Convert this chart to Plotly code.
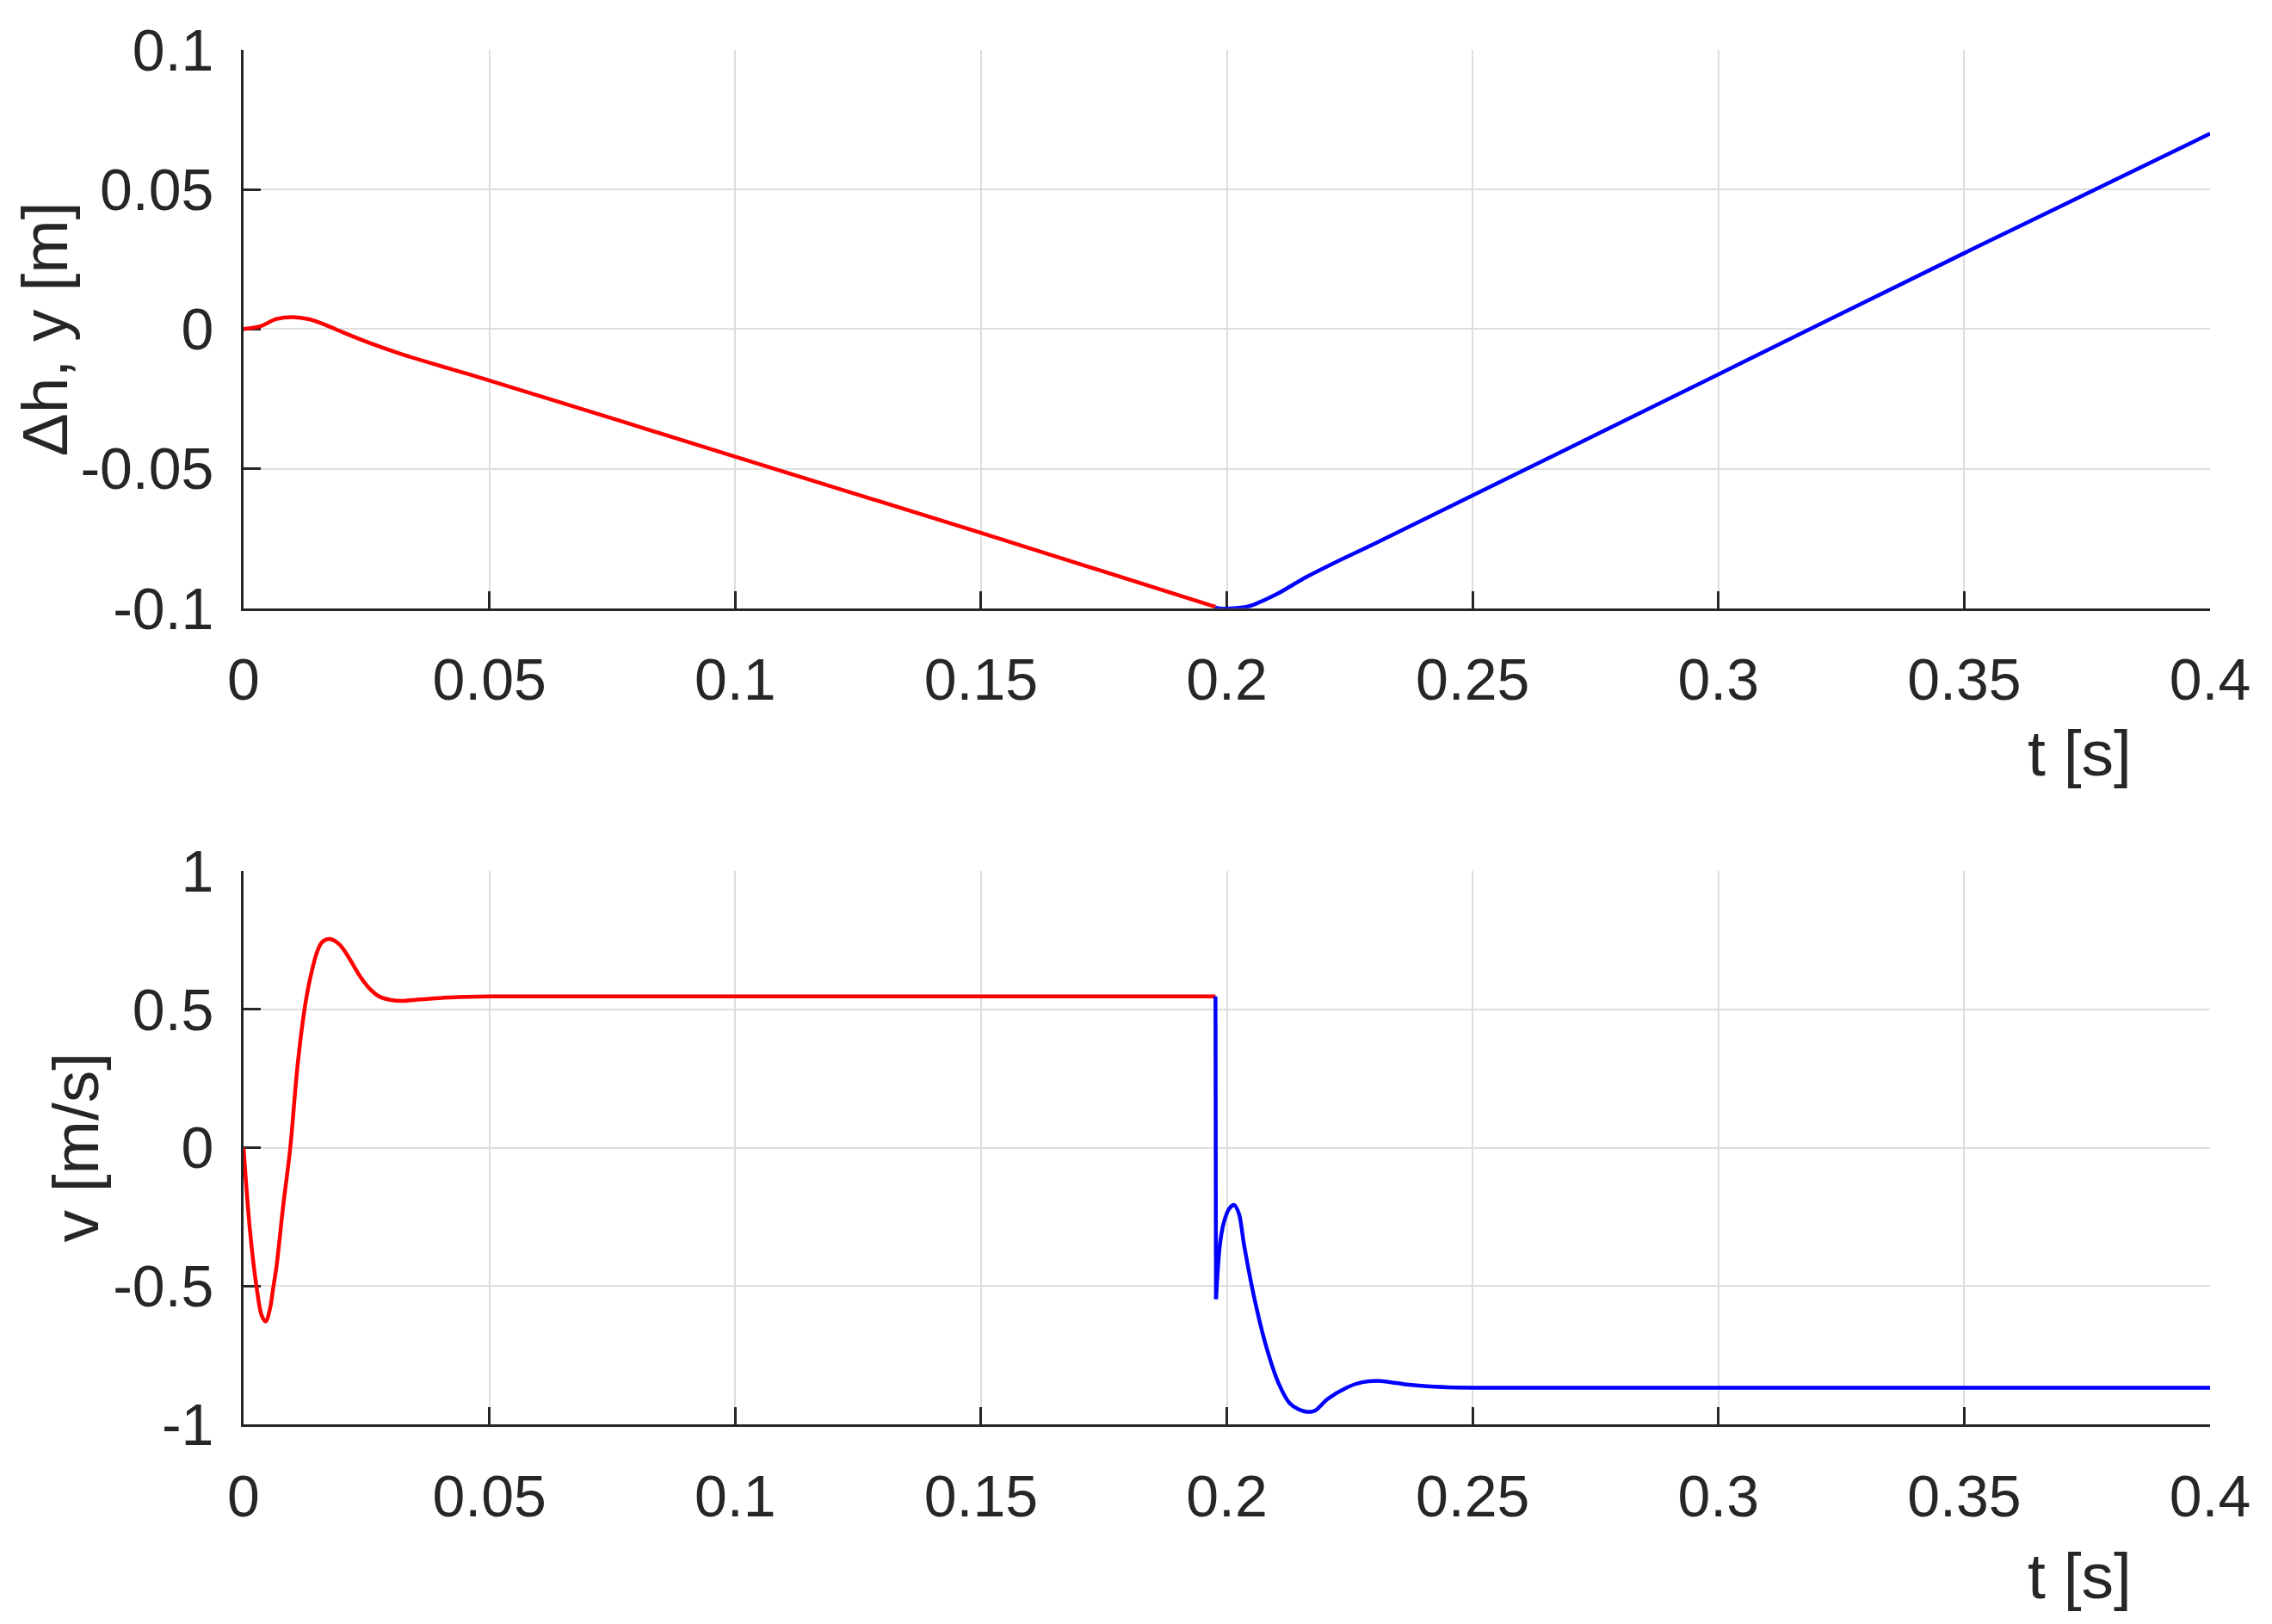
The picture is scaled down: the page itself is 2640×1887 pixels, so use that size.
import plotly.graph_objects as go

# ---------------- data ----------------
# top panel: delta h, y [m]
t_top_red = [0, 0.0034, 0.0067, 0.010, 0.0134, 0.0168, 0.0201, 0.0242, 0.0322,
             0.05, 0.1, 0.15, 0.1977]
y_top_red = [0, 0.0010, 0.0036, 0.0043, 0.0035, 0.0014, -0.0011, -0.0040, -0.0090,
             -0.0184, -0.0457, -0.0730, -0.0995]

t_top_blue = [0.1977, 0.1981, 0.2043, 0.210, 0.216, 0.2218, 0.2305, 0.30, 0.35, 0.40]
y_top_blue = [-0.0995, -0.1000, -0.0994, -0.0951, -0.0890, -0.0838, -0.0765,
              -0.0162, 0.0272, 0.0700]

# bottom panel: v [m/s]
t_bot_red = [0, 0.00134, 0.0027, 0.0037, 0.0045, 0.0054, 0.0060, 0.0067, 0.0080,
             0.0095, 0.0110, 0.0124, 0.0134, 0.0148, 0.0158, 0.0167, 0.0176, 0.0195,
             0.0215, 0.0235, 0.0255, 0.0275, 0.0300, 0.0325, 0.0360, 0.0420, 0.0500,
             0.1977]
v_bot_red = [0, -0.305, -0.51, -0.607, -0.628, -0.58, -0.51, -0.43, -0.22,
             0.0, 0.30, 0.50, 0.60, 0.70, 0.74, 0.752, 0.755, 0.735,
             0.685, 0.625, 0.578, 0.548, 0.534, 0.531, 0.536, 0.543, 0.547,
             0.547]

t_bot_blue = [0.1977, 0.1978, 0.1986, 0.1994, 0.2005, 0.2015, 0.2025, 0.2035, 0.2058,
              0.2082, 0.2105, 0.2128, 0.2145, 0.2163, 0.2180, 0.2204, 0.2245, 0.2275,
              0.2303, 0.2335, 0.2362, 0.2391, 0.2450, 0.2600, 0.4000]
v_bot_blue = [0.547, -0.547, -0.35, -0.27, -0.22, -0.207, -0.24, -0.35, -0.56,
              -0.73, -0.85, -0.924, -0.945, -0.955, -0.95, -0.91, -0.866, -0.848,
              -0.843, -0.848, -0.855, -0.86, -0.866, -0.868, -0.868]

x_ticks = [0, 0.05, 0.1, 0.15, 0.2, 0.25, 0.3, 0.35, 0.4]
x_ticktext = ["0", "0.05", "0.1", "0.15", "0.2", "0.25", "0.3", "0.35", "0.4"]
y_top_ticks = [-0.1, -0.05, 0, 0.05, 0.1]
y_top_ticktext = ["-0.1", "-0.05", "0", "0.05", "0.1"]
y_bot_ticks = [-1, -0.5, 0, 0.5, 1]
y_bot_ticktext = ["-1", "-0.5", "0", "0.5", "1"]

# ---------------- figure ----------------
RED = "#ff0000"
BLUE = "#0000ff"
AXC = "#262626"
GRID = "#dedede"
FONT = "Liberation Sans, Arial, sans-serif"
LW = 4.5

fig = go.Figure()
fig.add_trace(go.Scatter(x=t_top_red, y=y_top_red, mode="lines",
                         line=dict(color=RED, width=LW, shape="spline", smoothing=0.8),
                         xaxis="x", yaxis="y", showlegend=False))
fig.add_trace(go.Scatter(x=t_top_blue, y=y_top_blue, mode="lines",
                         line=dict(color=BLUE, width=LW, shape="spline", smoothing=0.8),
                         xaxis="x", yaxis="y", showlegend=False))
fig.add_trace(go.Scatter(x=t_bot_red, y=v_bot_red, mode="lines",
                         line=dict(color=RED, width=LW, shape="spline", smoothing=1.0),
                         xaxis="x2", yaxis="y2", showlegend=False))
# vertical switch segment (straight) and the settling part (smooth)
fig.add_trace(go.Scatter(x=t_bot_blue[:2], y=v_bot_blue[:2], mode="lines",
                         line=dict(color=BLUE, width=LW),
                         xaxis="x2", yaxis="y2", showlegend=False))
fig.add_trace(go.Scatter(x=t_bot_blue[1:], y=v_bot_blue[1:], mode="lines",
                         line=dict(color=BLUE, width=LW, shape="spline", smoothing=0.8),
                         xaxis="x2", yaxis="y2", showlegend=False))

# page body has an 8px margin around the plot div
OFF = 8
W, H = 2640 - 2 * OFF, 1887 - 2 * OFF
L = 283 - OFF
T = 45 - OFF
R = (W + OFF) - 2568
B = (H + OFF) - 1655
PH = H - T - B
PW = W - L - R


def py(page_y):
    return 1 - (page_y - OFF - T) / PH


def px(page_x):
    return (page_x - OFF - L) / PW


top_dom = [py(699), 1.0]
bot_dom = [0.0, py(1007)]

common = dict(showline=True, linecolor=AXC, linewidth=3, mirror=False,
              ticks="inside", ticklen=20, tickwidth=3, tickcolor=AXC,
              showgrid=True, gridcolor=GRID, gridwidth=2, zeroline=False,
              tickfont=dict(family=FONT, size=68, color=AXC),
              layer="below traces")

fig.update_layout(
    width=W, height=H,
    margin=dict(l=L, r=R, t=T, b=B),
    paper_bgcolor="white", plot_bgcolor="white",
    xaxis=dict(domain=[0, 1], anchor="y", range=[0, 0.4], tickvals=x_ticks,
               ticktext=x_ticktext, ticklabelstandoff=22, **common),
    xaxis2=dict(domain=[0, 1], anchor="y2", range=[0, 0.4], tickvals=x_ticks,
                ticktext=x_ticktext, ticklabelstandoff=22, **common),
    yaxis=dict(domain=top_dom, anchor="x", range=[-0.1, 0.1], tickvals=y_top_ticks,
               ticktext=y_top_ticktext, ticklabelstandoff=18, **common),
    yaxis2=dict(domain=bot_dom, anchor="x2", range=[-1, 1], tickvals=y_bot_ticks,
                ticktext=y_bot_ticktext, ticklabelstandoff=18, **common),
)

title_font = dict(family=FONT, size=75, color=AXC)
fig.add_annotation(text="\u0394h, y [m]", textangle=-90, xref="paper", yref="paper",
                   x=0, y=(top_dom[0] + top_dom[1]) / 2, xanchor="center", yanchor="middle",
                   xshift=52 - 283, showarrow=False, font=title_font)
fig.add_annotation(text="v [m/s]", textangle=-90, xref="paper", yref="paper",
                   x=0, y=(bot_dom[0] + bot_dom[1]) / 2, xanchor="center", yanchor="middle",
                   xshift=88 - 283, showarrow=False, font=title_font)
fig.add_annotation(text="t [s]", xref="paper", yref="paper",
                   x=px(2416), y=py(869),
                   xanchor="center", yanchor="middle", showarrow=False, font=title_font)
fig.add_annotation(text="t [s]", xref="paper", yref="paper",
                   x=px(2416), y=py(1832),
                   xanchor="center", yanchor="middle", showarrow=False, font=title_font)

fig.write_html("out.html")
